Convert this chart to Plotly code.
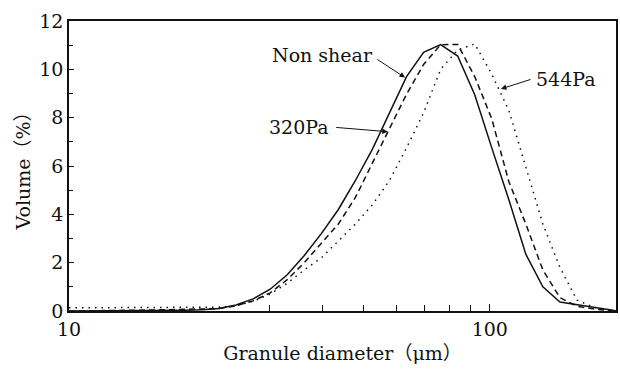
import math
import plotly.graph_objects as go

# Granule diameter bins (µm)
diameter = [10.0, 10.78, 11.83, 12.99, 14.26, 15.65, 17.18, 18.86, 20.70, 22.73, 24.95,
            27.39, 30.07, 33.01, 36.24, 39.78, 43.67, 47.94, 52.62, 57.77,
            63.41, 69.61, 76.42, 83.89, 92.09, 101.1, 111.0, 121.8, 133.7,
            146.8, 161.2, 176.9, 194.2, 200.0]

# Volume (%) for each condition
non_shear = [0.0, 0.0, 0.0, 0.0, 0.01, 0.01, 0.02, 0.03, 0.05, 0.10, 0.25,
             0.50, 0.90, 1.50, 2.30, 3.20, 4.20, 5.40, 6.70, 8.20,
             9.70, 10.70, 11.02, 10.55, 8.95, 6.75, 4.60, 2.35, 1.00,
             0.37, 0.27, 0.15, 0.04, 0.0]
pa320 = [0.0, 0.0, 0.01, 0.02, 0.03, 0.04, 0.05, 0.05, 0.06, 0.10, 0.22,
         0.42, 0.75, 1.30, 2.00, 2.80, 3.60, 4.70, 6.15, 7.55,
         8.97, 10.20, 11.02, 11.03, 9.70, 7.95, 5.35, 3.60, 1.70,
         0.55, 0.20, 0.08, 0.02, 0.0]
pa544 = [0.13, 0.13, 0.13, 0.13, 0.13, 0.13, 0.13, 0.13, 0.14, 0.16, 0.22,
         0.40, 0.70, 1.15, 1.70, 2.20, 2.90, 3.60, 4.40, 5.40,
         6.75, 8.20, 10.00, 10.80, 11.05, 9.80, 8.30, 6.00, 3.60,
         1.80, 0.45, 0.15, 0.03, 0.0]

series_names = ["Non shear", "320Pa", "544Pa"]
series_dash = ["solid", "6px,4px", "1.5px,5px"]

x_major_ticks = [10, 100]
x_minor_ticks = [30, 40, 50, 60, 70, 80, 90]

FONT = "DejaVu Serif, Noto Sans CJK SC"
INK = "#111111"
FS = 19

fig = go.Figure()
for name, ys, dash in zip(series_names, [non_shear, pa320, pa544], series_dash):
    fig.add_trace(go.Scatter(
        x=diameter, y=ys, mode="lines", name=name,
        line=dict(color=INK, width=1.5, dash=dash),
    ))

L = math.log10
ann_font = dict(family=FONT, size=FS, color=INK)
annotations = [
    # text labels
    dict(x=L(53.5), y=10.6, text="Non shear", xanchor="right", yanchor="middle"),
    dict(x=L(42.0), y=7.6, text="320Pa", xanchor="right", yanchor="middle"),
    dict(x=L(127.5), y=9.6, text="544Pa", xanchor="left", yanchor="middle"),
]
for a in annotations:
    a.update(xref="x", yref="y", showarrow=False, font=ann_font)

arrows = [
    dict(x=L(62.9), y=9.66, ax=L(53.6), ay=10.45),
    dict(x=L(57.2), y=7.42, ax=L(42.8), ay=7.6),
    dict(x=L(106.3), y=9.19, ax=L(126.0), ay=9.6),
]
for a in arrows:
    a.update(xref="x", yref="y", axref="x", ayref="y", text="", showarrow=True,
             arrowhead=2, arrowsize=1.1, arrowwidth=1, arrowcolor=INK)

fig.update_layout(
    width=620, height=369,
    margin=dict(l=69, r=2, t=21, b=58),
    paper_bgcolor="white", plot_bgcolor="white",
    showlegend=False,
    font=dict(family=FONT, size=FS, color=INK),
    annotations=annotations + arrows,
)
fig.update_xaxes(
    type="log", range=[1, L(199.5)],
    tickmode="array", tickvals=x_major_ticks, ticktext=[str(v) for v in x_major_ticks],
    ticks="inside", ticklen=7, tickwidth=1, tickcolor=INK,
    minor=dict(tickmode="array", tickvals=x_minor_ticks, ticks="inside",
               ticklen=6, tickwidth=1, tickcolor=INK, showgrid=False),
    showline=True, linecolor=INK, linewidth=1.5, mirror=True,
    showgrid=False, zeroline=False,
    title=dict(text="Granule diameter（μm）", standoff=8,
               font=dict(family=FONT, size=FS)),
    tickfont=dict(family=FONT, size=FS),
)
fig.update_yaxes(
    range=[0, 12], dtick=2, tick0=0,
    ticks="inside", ticklen=5, tickwidth=1, tickcolor=INK,
    minor=dict(dtick=1, ticks="inside", ticklen=4, tickwidth=1, tickcolor=INK,
               showgrid=False),
    showline=True, linecolor=INK, linewidth=1.5, mirror=True,
    showgrid=False, zeroline=False,
    title=dict(text="Volume（%）", standoff=4, font=dict(family=FONT, size=FS)),
    tickfont=dict(family=FONT, size=FS),
)

fig.write_html("out.html")
